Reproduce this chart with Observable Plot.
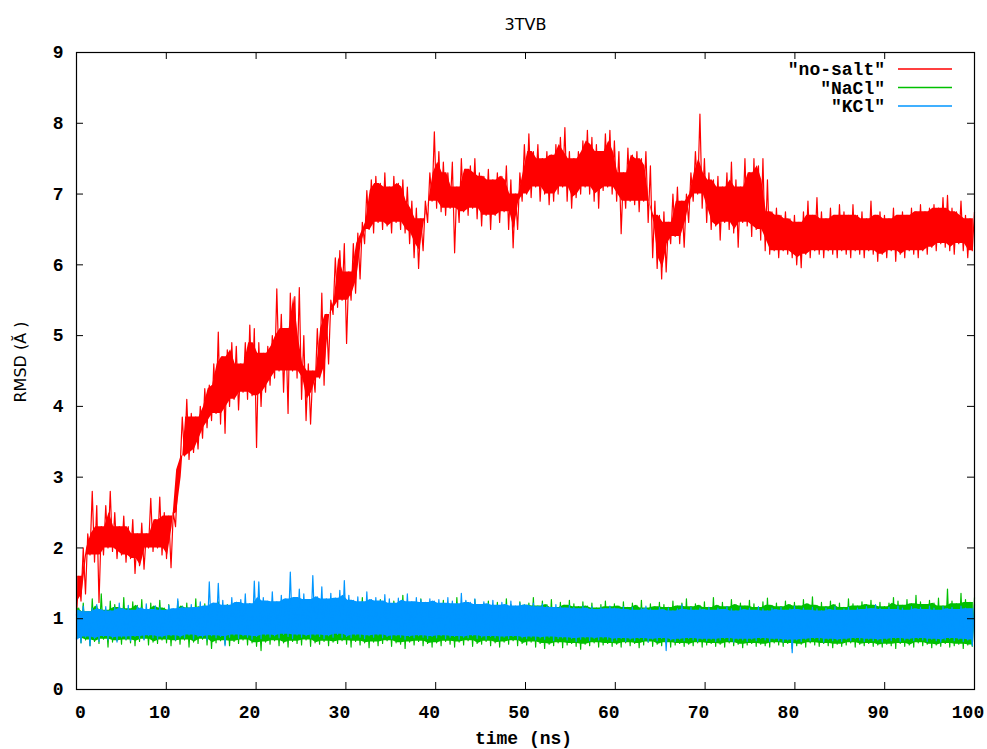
<!DOCTYPE html>
<html><head><meta charset="utf-8">
<script src="https://cdn.jsdelivr.net/npm/d3@7"></script>
<script src="https://cdn.jsdelivr.net/npm/@observablehq/plot@0.6"></script>
<style>body{margin:0;background:#fff}</style>
</head><body><div id="chart"></div>
<script>
// Envelope (low / high) of each RMSD trace per 0.5 ns bin, 0..100 ns
const noSaltLo = [
1.05,1.25,1.35,1.9,1.8,1.23,1.9,2.0,1.95,1.85,
1.9,1.8,1.85,1.64,1.75,1.7,2.0,1.95,2.0,1.9,
1.85,1.72,2.3,3.1,3.3,3.25,3.35,3.4,3.55,3.7,
3.8,3.9,3.75,3.62,4.0,4.1,3.95,4.2,4.1,4.15,
3.42,4.0,4.2,4.3,4.4,4.5,4.2,3.9,4.5,4.4,
4.1,3.8,3.75,4.2,4.4,4.3,4.6,5.3,5.4,5.5,
4.89,5.5,5.6,5.8,6.3,6.5,6.45,6.6,6.5,6.55,
6.45,6.6,6.5,6.45,6.3,6.1,5.95,6.2,6.6,6.9,
6.8,6.75,6.7,6.8,6.17,6.6,6.75,6.7,6.8,6.65,
6.55,6.7,6.5,6.7,6.6,6.75,6.5,6.24,6.5,6.9,
7.0,6.95,7.1,6.9,7.0,6.85,6.9,7.0,7.1,6.9,
6.8,6.95,7.0,7.1,7.0,6.9,6.8,7.05,7.1,7.0,
6.9,6.44,6.8,6.9,6.85,6.75,6.9,6.6,6.1,5.95,
5.8,5.9,6.3,6.4,6.3,6.25,6.6,6.9,7.0,6.8,
6.6,6.5,6.55,6.35,6.6,6.5,6.45,6.25,6.6,6.55,
6.4,6.5,6.35,6.2,6.15,6.2,6.1,6.2,6.15,6.1,
6.0,5.96,6.15,6.1,6.2,6.15,6.1,6.2,6.15,6.1,
6.2,6.15,6.1,6.2,6.15,6.1,6.2,6.15,6.05,6.15,
6.1,6.2,6.05,6.15,6.1,6.2,6.15,6.1,6.2,6.15,
6.25,6.2,6.3,6.25,6.2,6.15,6.3,6.2,6.1,6.2];
const noSaltHi = [
1.6,2.0,2.2,2.8,2.6,2.3,2.6,2.8,2.5,2.3,
2.45,2.3,2.4,2.2,2.35,2.2,2.7,2.4,2.72,2.5,
2.45,2.5,3.0,3.85,4.1,3.9,3.85,4.0,4.25,4.3,
4.6,5.05,4.7,4.8,4.9,4.85,4.6,4.9,5.15,5.1,
4.9,4.75,4.85,5.0,5.66,5.3,5.1,5.6,5.55,5.68,
5.0,4.6,4.5,5.1,5.6,5.3,5.5,6.1,6.2,6.3,
5.9,6.3,6.45,6.6,7.05,7.2,7.25,7.15,7.3,7.1,
7.25,7.15,7.2,7.1,6.9,6.8,6.65,6.9,7.3,7.88,
7.6,7.45,7.3,7.45,7.1,7.5,7.35,7.4,7.5,7.3,
7.25,7.35,7.2,7.3,7.25,7.4,7.2,7.0,7.3,7.7,
7.85,7.6,7.7,7.5,7.6,7.55,7.7,7.8,7.94,7.6,
7.5,7.6,7.75,7.9,7.8,7.7,7.6,7.85,7.9,7.75,
7.6,7.3,7.65,7.55,7.6,7.5,7.6,7.4,6.9,6.7,
6.75,6.6,7.0,7.1,6.9,7.0,7.3,7.6,8.13,7.5,
7.3,7.2,7.25,7.1,7.3,7.45,7.2,7.1,7.5,7.3,
7.5,7.4,7.5,7.2,6.75,6.8,6.7,6.75,6.65,6.7,
6.6,6.75,6.9,6.7,6.95,6.75,6.65,6.8,6.7,6.85,
6.75,6.7,6.85,6.7,6.75,6.65,6.9,6.7,6.75,6.7,
6.65,6.8,6.7,6.75,6.7,6.8,6.75,6.85,6.75,6.8,
6.85,6.8,6.95,6.98,6.8,6.75,6.9,6.7,6.65,6.75];
const naclLo = [
0.72,0.66,0.70,0.62,0.68,0.65,0.71,0.60,0.67,0.69,0.64,0.70,0.66,0.62,0.68,0.71,0.63,0.67,0.65,0.70,
0.66,0.62,0.69,0.64,0.70,0.60,0.67,0.65,0.71,0.63,0.58,0.66,0.69,0.64,0.62,0.68,0.65,0.70,0.63,0.66,
0.61,0.55,0.67,0.64,0.69,0.62,0.66,0.60,0.68,0.65,0.63,0.70,0.61,0.66,0.64,0.68,0.62,0.67,0.65,0.69,
0.64,0.60,0.68,0.63,0.66,0.59,0.67,0.62,0.65,0.69,0.61,0.66,0.64,0.58,0.67,0.63,0.68,0.62,0.65,0.60,
0.66,0.62,0.68,0.64,0.60,0.67,0.63,0.69,0.61,0.65,0.64,0.68,0.62,0.66,0.60,0.67,0.64,0.69,0.62,0.65,
0.63,0.67,0.60,0.65,0.58,0.64,0.62,0.66,0.59,0.63,0.65,0.61,0.57,0.64,0.62,0.66,0.60,0.63,0.65,0.61,
0.64,0.60,0.66,0.62,0.65,0.59,0.63,0.67,0.61,0.64,0.62,0.66,0.60,0.63,0.65,0.61,0.64,0.62,0.66,0.60,
0.63,0.65,0.61,0.64,0.60,0.66,0.62,0.64,0.59,0.63,0.65,0.61,0.64,0.62,0.60,0.66,0.63,0.61,0.65,0.58,
0.62,0.64,0.60,0.66,0.63,0.61,0.65,0.62,0.59,0.64,0.61,0.63,0.66,0.60,0.64,0.62,0.65,0.61,0.63,0.60,
0.64,0.62,0.58,0.65,0.61,0.63,0.60,0.66,0.62,0.64,0.59,0.63,0.61,0.65,0.60,0.62,0.64,0.58,0.63,0.61];
const naclHi = [
1.15,1.22,1.10,1.28,1.18,1.35,1.12,1.25,1.20,1.16,1.30,1.14,1.24,1.19,1.27,1.13,1.22,1.18,1.26,1.15,
1.20,1.12,1.25,1.18,1.22,1.15,1.28,1.17,1.21,1.14,1.19,1.24,1.13,1.20,1.16,1.23,1.18,1.12,1.21,1.17,
1.14,1.22,1.18,1.25,1.16,1.20,1.13,1.24,1.19,1.15,1.22,1.17,1.21,1.14,1.26,1.18,1.20,1.15,1.23,1.17,
1.19,1.24,1.15,1.30,1.18,1.22,1.16,1.27,1.20,1.14,1.25,1.18,1.33,1.17,1.23,1.19,1.28,1.16,1.21,1.24,
1.18,1.26,1.15,1.22,1.30,1.17,1.24,1.19,1.27,1.16,1.21,1.25,1.18,1.23,1.15,1.28,1.20,1.17,1.24,1.19,
1.22,1.30,1.18,1.25,1.20,1.27,1.16,1.23,1.19,1.26,1.21,1.17,1.24,1.18,1.22,1.15,1.20,1.25,1.17,1.21,
1.18,1.24,1.16,1.22,1.19,1.26,1.15,1.21,1.17,1.23,1.20,1.16,1.25,1.18,1.22,1.28,1.17,1.21,1.19,1.24,
1.16,1.30,1.19,1.23,1.17,1.27,1.20,1.22,1.18,1.26,1.21,1.16,1.24,1.29,1.19,1.22,1.17,1.25,1.20,1.23,
1.18,1.27,1.21,1.31,1.19,1.23,1.17,1.25,1.20,1.22,1.16,1.28,1.21,1.18,1.24,1.20,1.26,1.19,1.23,1.17,
1.22,1.30,1.25,1.19,1.27,1.21,1.33,1.24,1.20,1.26,1.22,1.29,1.18,1.42,1.25,1.21,1.36,1.27,1.23,1.30];
const kclLo = [
0.70,0.66,0.74,0.62,0.72,0.68,0.75,0.70,0.73,0.67,0.74,0.71,0.69,0.75,0.72,0.70,0.76,0.73,0.71,0.74,
0.72,0.76,0.70,0.74,0.73,0.77,0.71,0.75,0.74,0.70,0.76,0.73,0.75,0.62,0.74,0.77,0.72,0.76,0.74,0.71,
0.75,0.72,0.77,0.74,0.76,0.73,0.78,0.75,0.72,0.77,0.74,0.76,0.73,0.77,0.75,0.72,0.76,0.74,0.78,0.73,
0.75,0.73,0.77,0.74,0.72,0.76,0.74,0.77,0.73,0.75,0.72,0.76,0.74,0.71,0.75,0.73,0.76,0.74,0.72,0.75,
0.73,0.76,0.72,0.74,0.75,0.71,0.74,0.73,0.76,0.72,0.74,0.71,0.75,0.73,0.70,0.74,0.72,0.75,0.71,0.73,
0.72,0.74,0.70,0.73,0.71,0.74,0.69,0.72,0.73,0.70,0.72,0.68,0.71,0.73,0.69,0.72,0.70,0.73,0.71,0.68,
0.70,0.72,0.68,0.71,0.69,0.72,0.70,0.67,0.71,0.69,0.72,0.55,0.70,0.68,0.71,0.69,0.72,0.70,0.68,0.71,
0.69,0.71,0.68,0.70,0.72,0.69,0.67,0.71,0.70,0.68,0.71,0.69,0.72,0.70,0.68,0.71,0.69,0.67,0.70,0.52,
0.70,0.68,0.71,0.69,0.72,0.70,0.67,0.71,0.69,0.70,0.68,0.71,0.69,0.72,0.70,0.68,0.71,0.69,0.70,0.67,
0.71,0.69,0.72,0.68,0.70,0.71,0.69,0.72,0.70,0.68,0.71,0.69,0.67,0.70,0.72,0.69,0.71,0.68,0.70,0.62];
const kclHi = [
1.12,1.18,1.10,1.15,1.20,1.13,1.17,1.11,1.16,1.22,1.14,1.19,1.12,1.17,1.15,1.21,1.13,1.18,1.16,1.12,
1.19,1.14,1.28,1.17,1.15,1.20,1.16,1.24,1.18,1.52,1.22,1.50,1.26,1.19,1.30,1.23,1.27,1.35,1.21,1.53,
1.52,1.30,1.25,1.38,1.24,1.33,1.28,1.66,1.30,1.42,1.35,1.27,1.61,1.31,1.45,1.28,1.36,1.29,1.40,1.54,
1.33,1.26,1.31,1.24,1.38,1.27,1.30,1.25,1.34,1.28,1.22,1.29,1.26,1.35,1.24,1.30,1.27,1.23,1.28,1.25,
1.27,1.22,1.30,1.25,1.21,1.36,1.26,1.23,1.28,1.20,1.24,1.21,1.26,1.19,1.23,1.20,1.25,1.18,1.22,1.20,
1.19,1.22,1.17,1.21,1.18,1.16,1.20,1.17,1.15,1.19,1.16,1.14,1.18,1.15,1.17,1.13,1.16,1.14,1.18,1.15,
1.14,1.17,1.13,1.16,1.12,1.15,1.18,1.14,1.12,1.16,1.13,1.15,1.11,1.14,1.20,1.13,1.16,1.12,1.15,1.13,
1.16,1.12,1.15,1.13,1.17,1.14,1.11,1.16,1.13,1.15,1.12,1.17,1.14,1.11,1.15,1.13,1.16,1.12,1.14,1.18,
1.13,1.15,1.12,1.16,1.14,1.11,1.15,1.13,1.17,1.12,1.14,1.16,1.12,1.15,1.13,1.17,1.14,1.20,1.15,1.13,
1.16,1.13,1.18,1.15,1.12,1.17,1.14,1.16,1.13,1.18,1.15,1.12,1.17,1.14,1.16,1.13,1.18,1.15,1.14,1.20];

const seriesNames = ['"no-salt"', '"NaCl"', '"KCl"'];
const seriesColors = ["#ff0000", "#00c000", "#0096ff"];
const xTicks = [0,10,20,30,40,50,60,70,80,90,100];
const yTicks = [0,1,2,3,4,5,6,7,8,9];
const titleText = "3TVB";
const xLabel = "time (ns)";
const yLabel = "RMSD (Ă )";
const tStart = 0, tEnd = 100;

// zig-zag trace through the low / high readings, and the per-bin envelope rows
function trace(lo, hi) {
  const n = lo.length * 2, pts = [];
  for (let j = 0; j < n; j++) {
    const b = Math.floor(j / 2);
    pts.push({t: tStart + (tEnd - tStart) * j / (n - 1), v: j % 2 ? hi[b] : lo[b]});
  }
  return pts;
}
function bins(lo, hi) {
  const n = lo.length * 2;
  return lo.map((l, i) => ({t: tStart + (tEnd - tStart) * (2 * i + 0.5) / (n - 1), lo: l, hi: hi[i]}));
}
const los = [noSaltLo, naclLo, kclLo], his = [noSaltHi, naclHi, kclHi];
const coreWindow = [3, 3, 3];

const W = 987, H = 749, mL = 76, mR = 13, mT = 52, mB = 60;
const fw = W - mL - mR, fh = H - mT - mB, tk = 7;
const mono = "'Liberation Mono', monospace", sans = "'DejaVu Sans', sans-serif";

const seriesMarks = los.flatMap((lo, i) => [
  Plot.areaY(bins(lo, his[i]), Plot.map(
    {y1: Plot.window({k: coreWindow[i], reduce: "max"}), y2: Plot.window({k: coreWindow[i], reduce: "min"})},
    {x: "t", y1: "lo", y2: "hi", fill: seriesColors[i]})),
  Plot.line(trace(lo, his[i]), {x: "t", y: "v", stroke: seriesColors[i], strokeWidth: 1.2})
]);

const svg = Plot.plot({
  width: W, height: H, marginLeft: mL, marginRight: mR, marginTop: mT, marginBottom: mB,
  x: {domain: [0, 100]}, y: {domain: [0, 9]},
  style: {fontFamily: mono, fontSize: "18px", background: "#fff", color: "#000", overflow: "visible"},
  marks: [
    ...seriesMarks,
    Plot.tickX(xTicks, {x: d => d, insetTop: fh - tk, stroke: "#000"}),
    Plot.tickX(xTicks, {x: d => d, insetBottom: fh - tk, stroke: "#000"}),
    Plot.tickY(yTicks, {y: d => d, insetRight: fw - tk, stroke: "#000"}),
    Plot.tickY(yTicks, {y: d => d, insetLeft: fw - tk, stroke: "#000"}),
    Plot.frame({stroke: "#000", strokeWidth: 1.2}),
    Plot.axisX(xTicks.slice(0, 1), {tickSize: 0, tickPadding: 16, label: null, fontWeight: "bold", dx: 4, tickFormat: d3.format("d")}),
    Plot.axisX(xTicks.slice(1), {tickSize: 0, tickPadding: 16, label: null, fontWeight: "bold", dx: -6.5, tickFormat: d3.format("d")}),
    Plot.axisY(yTicks, {tickSize: 0, tickPadding: 13, label: null, fontWeight: "bold", tickFormat: d3.format("d")}),
    Plot.text([titleText], {frameAnchor: "top", dy: -28, lineAnchor: "middle", fontFamily: sans, fontSize: 16}),
    Plot.text([xLabel], {frameAnchor: "bottom", dy: 49, dx: -2, lineAnchor: "middle", fontWeight: "bold"}),
    Plot.text([yLabel], {frameAnchor: "left", dx: -56, dy: -9, rotate: -90, textAnchor: "middle", lineAnchor: "middle", fontFamily: sans, fontSize: 16})
  ]
});

// legend (gnuplot style, top right inside the frame)
const lg = d3.select(svg).append("g");
seriesNames.forEach((name, i) => {
  const y = 69 + i * 18.5;
  lg.append("text").attr("x", 885).attr("y", y).attr("dy", "0.35em")
    .attr("text-anchor", "end").attr("font-family", mono).attr("font-size", 18)
    .attr("font-weight", "bold").attr("fill", "#000").text(name);
  lg.append("line").attr("x1", 898).attr("x2", 952).attr("y1", y).attr("y2", y)
    .attr("stroke", seriesColors[i]).attr("stroke-width", 1.6);
});

document.getElementById("chart").appendChild(svg);
</script>
</body></html>
